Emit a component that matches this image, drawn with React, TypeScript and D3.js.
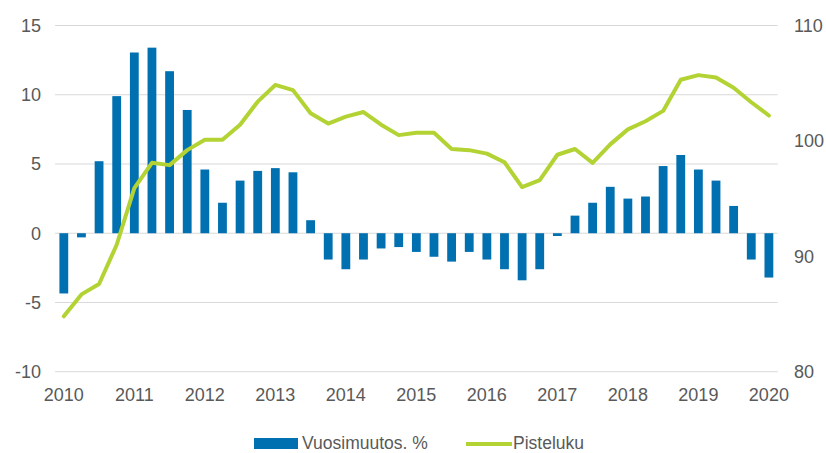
import React from "react";
import * as d3 from "d3";

const quarters: string[] = [];
for (let y = 2010; y <= 2020; y++) {
  for (let q = 1; q <= 4; q++) {
    if (y === 2020 && q > 1) break;
    quarters.push(`${y}Q${q}`);
  }
}

const vuosimuutos = [
  -4.35, -0.3, 5.2, 9.9, 13.05, 13.4, 11.7, 8.9, 4.6, 2.2, 3.8, 4.5, 4.7, 4.4,
  0.94, -1.9, -2.6, -1.9, -1.1, -1.0, -1.35, -1.7, -2.05, -1.35, -1.9, -2.6,
  -3.4, -2.6, -0.2, 1.27, 2.2, 3.35, 2.5, 2.65, 4.85, 5.65, 4.6, 3.8, 1.97,
  -1.9, -3.2,
];

const pisteluku = [
  84.8, 86.7, 87.6, 91.0, 95.9, 98.1, 97.9, 99.2, 100.1, 100.1, 101.4, 103.4,
  104.85, 104.4, 102.4, 101.5, 102.1, 102.5, 101.4, 100.5, 100.7, 100.7, 99.3,
  99.2, 98.9, 98.15, 96.0, 96.6, 98.8, 99.3, 98.1, 99.7, 101.0, 101.7, 102.6,
  105.3, 105.7, 105.5, 104.6, 103.35, 102.2,
];

const leftTicks = [-10, -5, 0, 5, 10, 15];
const rightTicks = [80, 90, 100, 110];
const yearLabels = ["2010", "2011", "2012", "2013", "2014", "2015", "2016", "2017", "2018", "2019", "2020"];

const W = 826;
const H = 453;
const left = 55;
const right = 777.7;
const top = 25.5;
const bottom = 371.7;

const BAR = "#0070b0";
const LINE = "#b3d334";
const TEXT = "#595959";
const GRID = "#d9d9d9";
const FONT = "'Liberation Sans', Arial, sans-serif";

export default function App() {
  const x = d3.scaleBand<number>().domain(quarters.map((_, i) => i)).range([left, right]).paddingInner(0.5).paddingOuter(0.25);
  const yL = d3.scaleLinear().domain([-10, 15]).range([bottom, top]);
  const yR = d3.scaleLinear().domain([80, 110]).range([bottom, top]);
  const cx = (i: number) => (x(i) as number) + x.bandwidth() / 2;
  const line = d3
    .line<number>()
    .x((_, i) => cx(i))
    .y((d) => yR(d));

  return (
    <svg width={W} height={H} style={{ position: "absolute", left: 0, top: 0 }} fontFamily={FONT}>
      <rect width={W} height={H} fill="#ffffff" />
      {leftTicks.map((t) => (
        <g key={t}>
          <line x1={left} x2={right} y1={yL(t)} y2={yL(t)} stroke={GRID} strokeWidth={1} />
          <text x={41} y={yL(t)} dy="0.35em" textAnchor="end" fontSize={18} fill={TEXT}>
            {t}
          </text>
        </g>
      ))}
      {rightTicks.map((t) => (
        <text key={t} x={794} y={yR(t)} dy="0.35em" textAnchor="start" fontSize={18} fill={TEXT}>
          {t}
        </text>
      ))}
      {vuosimuutos.map((v, i) => (
        <rect
          key={i}
          x={x(i)}
          width={x.bandwidth()}
          y={Math.min(yL(v), yL(0))}
          height={Math.abs(yL(v) - yL(0))}
          fill={BAR}
        />
      ))}
      <path d={line(pisteluku) || ""} fill="none" stroke={LINE} strokeWidth={4} strokeLinejoin="round" strokeLinecap="round" />
      {yearLabels.map((lab, k) => (
        <text key={lab} x={cx(k * 4)} y={401} textAnchor="middle" fontSize={18} fill={TEXT}>
          {lab}
        </text>
      ))}
      <g>
        <rect x={254} y={438} width={44} height={11} fill={BAR} />
        <text x={302} y={449} fontSize={17.5} fill={TEXT}>
          Vuosimuutos. %
        </text>
        <line x1={466} x2={512} y1={444} y2={444} stroke={LINE} strokeWidth={4} />
        <text x={513} y={449} fontSize={17.5} fill={TEXT}>
          Pisteluku
        </text>
      </g>
    </svg>
  );
}
